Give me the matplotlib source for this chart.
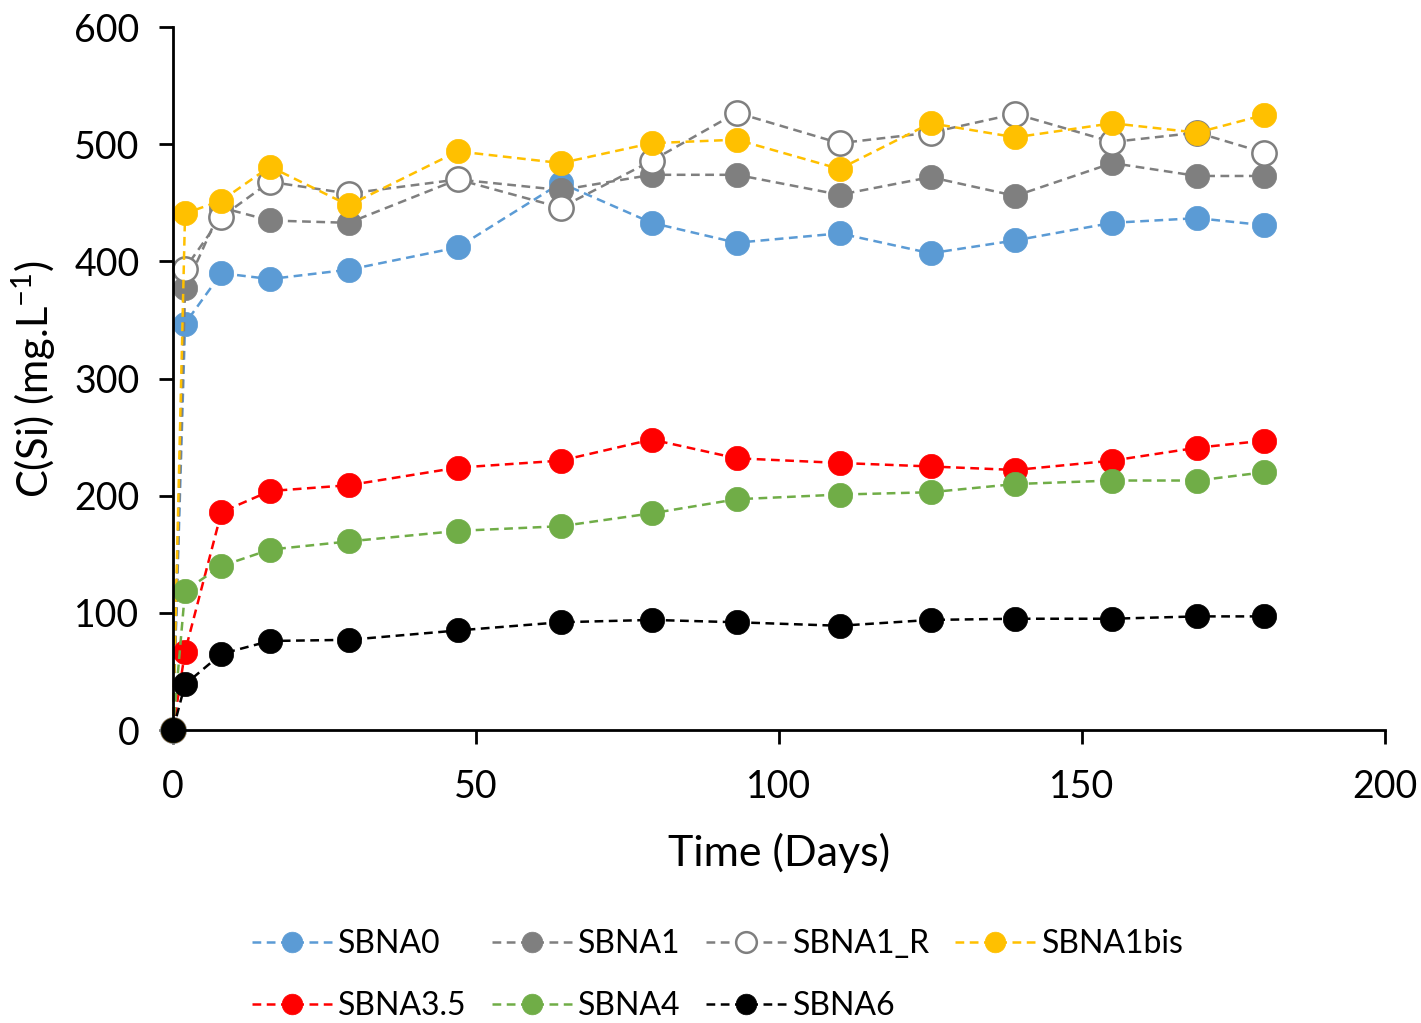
import matplotlib
matplotlib.use('Agg')
import matplotlib.pyplot as plt

plt.rcParams['font.family'] = ['Lato', 'DejaVu Sans']
plt.rcParams['mathtext.fontset'] = 'custom'
plt.rcParams['mathtext.rm'] = 'Lato'
plt.rcParams['mathtext.it'] = 'Lato'

# ===== data =====
days = [0, 2, 8, 16, 29, 47, 64, 79, 93, 110, 125, 139, 155, 169, 180]

sbna0 = [0, 347, 390, 385, 393, 412, 467, 433, 416, 424, 407, 418, 433, 437, 431]
sbna1 = [0, 377, 446, 435, 433, 470, 461, 474, 474, 457, 472, 456, 484, 473, 473]
sbna1_r = [0, 394, 438, 468, 458, 470, 446, 486, 527, 501, 510, 526, 502, 510, 493]
sbna1bis = [0, 441, 452, 481, 448, 494, 484, 501, 504, 479, 518, 506, 518, 510, 525]
sbna35 = [0, 67, 186, 204, 209, 224, 230, 248, 232, 228, 225, 222, 230, 241, 247]
sbna4 = [0, 119, 140, 154, 161, 170, 174, 185, 197, 201, 203, 210, 213, 213, 220]
sbna6 = [0, 39, 65, 76, 77, 85, 92, 94, 92, 89, 94, 95, 95, 97, 97]

series = [
    ("SBNA0", sbna0, "#5B9BD5", "#5B9BD5"),
    ("SBNA1", sbna1, "#7F7F7F", "#7F7F7F"),
    ("SBNA1_R", sbna1_r, "#7F7F7F", "white"),
    ("SBNA1bis", sbna1bis, "#FFC000", "#FFC000"),
    ("SBNA3.5", sbna35, "#FF0000", "#FF0000"),
    ("SBNA4", sbna4, "#70AD47", "#70AD47"),
    ("SBNA6", sbna6, "#000000", "#000000"),
]

fig = plt.figure(figsize=(14.21, 10.23), dpi=100)
ax = fig.add_axes([0.1217, 0.2864, 0.853, 0.687])

handles = []
for name, vals, col, face in series:
    h, = ax.plot(days, vals, linestyle=(0, (3.5, 2.2)), linewidth=1.8, color=col,
                 marker='o', markersize=17.5, markerfacecolor=face,
                 markeredgecolor=col, markeredgewidth=1.8 if face == 'white' else 0.5,
                 clip_on=False, label=name)
    handles.append(h)

ax.set_xlim(0, 200)
ax.set_ylim(0, 600)
ax.set_xticks([0, 50, 100, 150, 200])
ax.set_yticks([0, 100, 200, 300, 400, 500, 600])

for s in ['top', 'right']:
    ax.spines[s].set_visible(False)
for s in ['left', 'bottom']:
    ax.spines[s].set_linewidth(2)
ax.tick_params(direction='out', length=10, width=2, labelsize=27)
ax.tick_params(axis='x', pad=18)
ax.tick_params(axis='y', pad=14)

ax.set_xlabel("Time (Days)", fontsize=31, labelpad=20)
ax.set_ylabel(r"C(Si) (mg.L$^{-1}$)", fontsize=30, labelpad=12)

# row-wise legend order for 4 columns
order = [0, 4, 1, 5, 2, 6, 3]
fig.legend([handles[i] for i in order], [series[i][0] for i in order],
           loc='upper center', bbox_to_anchor=(0.505, 0.12), ncol=4,
           frameon=False, fontsize=23, handlelength=2.5, handletextpad=0.2,
           columnspacing=0.8, labelspacing=1.0, markerscale=0.85)

fig.savefig("out.png", dpi=100)
